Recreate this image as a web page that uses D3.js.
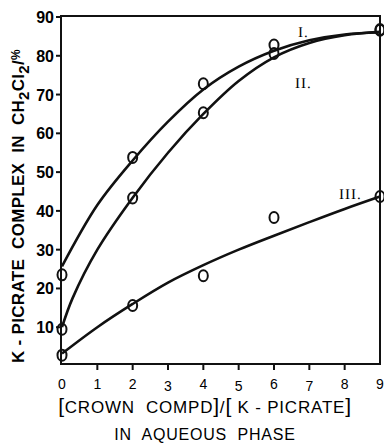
<!DOCTYPE html>
<html>
<head>
<meta charset="utf-8">
<script src="https://cdn.jsdelivr.net/npm/d3@7/dist/d3.min.js"></script>
<style>
  body { margin: 0; background: #fff; }
  text { font-family: "Liberation Sans", Arial, sans-serif; fill: #000; white-space: pre; }
</style>
</head>
<body>
<div id="chart"></div>
<script>
// measured points (open circles)
var ptX = [0, 2, 4, 6, 9];
var ptI = [23.5, 53.8, 72.8, 82.8, 86.6];
var ptII = [9.5, 43.3, 65.3, 80.6, 86.8];
var ptIII = [2.8, 15.6, 23.3, 38.3, 43.7];

// fitted curves
var curveIx = [0, 1, 2, 3, 4, 5, 6, 7, 8, 9];
var curveIy = [25.7, 41.5, 53, 63, 71.3, 77.2, 81.3, 84, 85.5, 86];
var curveIIx = [0, 0.3, 1, 2, 3, 4, 5, 6, 7, 8, 9];
var curveIIy = [10, 17.5, 30, 43.4, 55, 65, 73.5, 79.6, 83.3, 85.3, 86.2];
var curveIIIx = [0, 1, 2, 3, 4, 5, 6, 7, 8, 9];
var curveIIIy = [3.2, 10, 16, 21.5, 26, 30, 33.6, 37.1, 40.5, 43.7];

var xTicks = [0, 1, 2, 3, 4, 5, 6, 7, 8, 9];
var yTicks = [10, 20, 30, 40, 50, 60, 70, 80, 90];

var width = 384, height = 443;

var svg = d3.select("#chart").append("svg")
  .attr("width", width)
  .attr("height", height);

var x = d3.scaleLinear().domain([0, 9]).range([62, 380]);
var y = d3.scaleLinear().domain([0, 90]).range([366, 17]);

// frame
svg.append("rect")
  .attr("x", 61).attr("y", 16)
  .attr("width", 319).attr("height", 348)
  .attr("fill", "none").attr("stroke", "#111").attr("stroke-width", 2);

// y ticks + labels
svg.selectAll(".ytick").data(yTicks).enter().append("line")
  .attr("x1", 56).attr("x2", 61)
  .attr("y1", d => y(d)).attr("y2", d => y(d))
  .attr("stroke", "#111").attr("stroke-width", 2);
svg.selectAll(".ylab").data(yTicks).enter().append("text")
  .attr("x", 54).attr("y", d => y(d) + 6)
  .attr("text-anchor", "end")
  .style("font-size", "16px").style("font-weight", "bold")
  .text(d => d);

// x ticks + labels
svg.selectAll(".xtick").data(xTicks.slice(1, 9)).enter().append("line")
  .attr("x1", d => x(d)).attr("x2", d => x(d))
  .attr("y1", 364).attr("y2", 370)
  .attr("stroke", "#111").attr("stroke-width", 2);
svg.selectAll(".xlab").data(xTicks).enter().append("text")
  .attr("x", d => x(d)).attr("y", d => (d == 3 || d == 5 || d == 7) ? 391 : 389)
  .attr("text-anchor", "middle")
  .style("font-size", "14px")
  .text(d => d);

// curves
var line = d3.line().x(d => x(d[0])).y(d => y(d[1])).curve(d3.curveCatmullRom.alpha(0.5));
[[curveIx, curveIy], [curveIIx, curveIIy], [curveIIIx, curveIIIy]].forEach(function(c) {
  svg.append("path")
    .datum(c[0].map((v, i) => [v, c[1][i]]))
    .attr("d", line)
    .attr("fill", "none").attr("stroke", "#111").attr("stroke-width", 2.6);
});

// circles
[ptI, ptII, ptIII].forEach(function(s) {
  svg.selectAll(null).data(s).enter().append("ellipse")
    .attr("cx", (d, i) => x(ptX[i])).attr("cy", d => y(d))
    .attr("rx", 4.5).attr("ry", 5.5)
    .attr("fill", "none").attr("stroke", "#111").attr("stroke-width", 2);
});

// curve labels
var lab = [["I.", 298, 37], ["II.", 295, 88], ["III.", 339, 199]];
svg.selectAll(".clab").data(lab).enter().append("text")
  .attr("x", d => d[1]).attr("y", d => d[2])
  .style("font-family", "'Liberation Serif', serif")
  .style("font-size", "15px").style("letter-spacing", "1px")
  .style("text-rendering", "geometricPrecision")
  .text(d => d[0]);

// y title
var yt = svg.append("text")
  .attr("transform", "translate(24,206) rotate(-90)")
  .attr("text-anchor", "middle")
  .style("font-size", "17px").style("font-weight", "bold").style("letter-spacing", "0.3px");
yt.append("tspan").text("K - PICRATE  COMPLEX  IN  CH");
yt.append("tspan").attr("dy", 5).style("font-size", "15px").text("2");
yt.append("tspan").attr("dy", -5).text("Cl");
yt.append("tspan").attr("dy", 5).style("font-size", "15px").text("2");
yt.append("tspan").attr("dy", -5).text("/");
yt.append("tspan").attr("dy", -4).style("font-size", "12px").text("%");

// x titles
var xt = svg.append("text")
  .attr("x", 205).attr("y", 413)
  .attr("text-anchor", "middle")
  .style("font-size", "17px").style("letter-spacing", "0.8px");
xt.append("tspan").style("font-size", "21px").text("[");
xt.append("tspan").text("CROWN  COMPD");
xt.append("tspan").style("font-size", "21px").text("]");
xt.append("tspan").text("/");
xt.append("tspan").style("font-size", "21px").text("[");
xt.append("tspan").text(" K - PICRATE");
xt.append("tspan").style("font-size", "21px").text("]");

svg.append("text")
  .attr("x", 205).attr("y", 440)
  .attr("text-anchor", "middle")
  .style("font-size", "16px").style("letter-spacing", "0.8px")
  .text("IN  AQUEOUS  PHASE");
</script>
</body>
</html>
